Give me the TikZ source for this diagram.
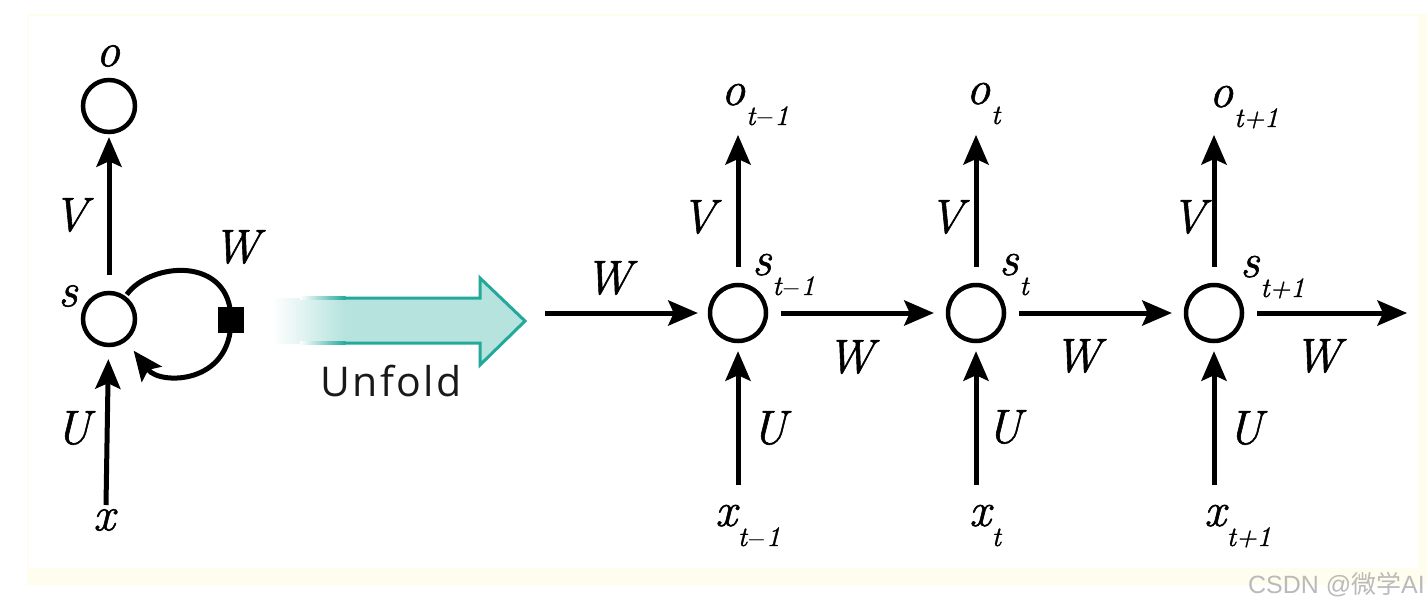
\documentclass[tikz,border=0pt]{standalone}
\usepackage{fontspec}
\newfontfamily\unfoldfont[LetterSpace=6]{Open Sans}
\newfontfamily\wmfont{Liberation Sans}
\newfontfamily\cjk{Noto Sans CJK SC}
\newfontfamily\labfont[FakeBold=1.2]{Latin Modern Roman}
\usetikzlibrary{arrows.meta}
\definecolor{tealline}{HTML}{22A99B}
\definecolor{tealfill}{HTML}{B6E3DE}
\definecolor{cream}{HTML}{FFFEEE}
\newcommand\sublab[2]{#1\kern1pt\raisebox{-20pt}{\fontsize{28}{28}\selectfont #2}}
\begin{document}
\begin{tikzpicture}[x=1pt,y=-1pt,
  unit/.style={circle, draw, line width=4.5pt, minimum size=56pt, inner sep=0pt},
  unitsmall/.style={unit, minimum size=52pt},
  arr/.style={line width=5pt, -{Stealth[length=30pt,width=26pt,inset=6pt,line width=0pt]}},
  lab/.style={inner sep=0pt, font=\labfont\fontsize{48}{48}\selectfont\itshape},
  sublabstyle/.style={lab, anchor=base west},
]
\useasboundingbox (0,0) rectangle (1427,610);
% background
\fill[cream] (27,14) rectangle (1427,585);
\fill[white] (29,16) rectangle (1418,568);

% ---------- folded network ----------
\node[unitsmall] (o0) at (109,106) {};
\node[unitsmall] (s0) at (109,319) {};
\node[fill=black, minimum size=26pt, inner sep=0pt] (sq) at (231,320) {};
\coordinate (x0in) at (106,505);
\draw[arr, shorten <=16pt, shorten >=3pt] (s0) -- (o0);
\draw[arr, shorten >=12pt] (x0in) -- (s0);
\draw[arr, shorten <=2pt, shorten >=12pt] (s0.54) .. controls (150,262) and (231,255) .. (sq.center)
   .. controls (231,385) and (160,385) .. (s0.-52);
\node[lab] (lo0) at (108,56) {o};
\node[lab] (ls0) at (68,296) {s};
\node[lab] (lw0) at (236,247) {W};
\node[lab] (lv0) at (70,215) {V};
\node[lab] (lu0) at (73,428) {U};
\node[lab] (lx0) at (104,520) {x};

% ---------- unfold arrow ----------
\fill[tealfill] (345,298) -- (480,298) -- (480,278) -- (525,321) -- (480,365) -- (480,343) -- (345,343) -- cycle;
\shade[left color=white, right color=tealfill] (272,298) rectangle (345.5,343);
\draw[tealline, line width=3pt, line join=miter] (345,298) -- (480,298) -- (480,278) -- (525,321) -- (480,365) -- (480,343) -- (345,343);
\shade[left color=white, right color=tealline] (300,296.5) rectangle (345.5,299.5);
\shade[left color=white, right color=tealline] (300,341.5) rectangle (345.5,344.5);
\node[font=\unfoldfont\fontsize{41}{41}\selectfont, text=black!90, inner sep=0pt] (unfold) at (391,381) {Unfold};

% ---------- unfolded network ----------
\node[unit] (s1) at (738,313) {};
\node[unit] (s2) at (976,313) {};
\node[unit] (s3) at (1214,313) {};
\coordinate (win) at (545,313);
\coordinate (wout) at (1407,313);
\coordinate (o1) at (738,135);
\coordinate (o2) at (976,135);
\coordinate (o3) at (1214,135);
\coordinate (x1) at (738,485);
\coordinate (x2) at (976,485);
\coordinate (x3) at (1214,485);

\draw[arr, shorten >=10pt] (win) -- (s1);
\draw[arr, shorten <=13pt, shorten >=12pt] (s1) -- (s2);
\draw[arr, shorten <=13pt, shorten >=12pt] (s2) -- (s3);
\draw[arr, shorten <=13pt] (s3) -- (wout);
\foreach \i in {1,2,3}{
  \draw[arr, shorten <=16pt] (s\i) -- (o\i);
  \draw[arr, shorten >=8pt] (x\i) -- (s\i);
}

% labels
\node[lab] (lwin) at (608,278) {W};
\node[lab] (lw1) at (850,357) {W};
\node[lab] (lw2) at (1077,356) {W};
\node[lab] (lw3) at (1317,356) {W};
\node[lab] (lv1) at (698,217) {V};
\node[lab] (lv2) at (946,217) {V};
\node[lab] (lv3) at (1188,217) {V};
\node[lab] (lu1) at (769,428) {U};
\node[lab] (lu2) at (1004,427) {U};
\node[lab] (lu3) at (1245,428) {U};

\node[sublabstyle] (lo1) at (721,105) {\sublab{o}{t$-$1}};
\node[sublabstyle] (lo2) at (966,104) {\sublab{o}{t}};
\node[sublabstyle] (lo3) at (1209,107) {\sublab{o}{t+1}};
\node[sublabstyle] (ls1) at (752,275) {\sublab{s}{t$-$1}};
\node[sublabstyle] (ls2) at (999,275) {\sublab{s}{t}};
\node[sublabstyle] (ls3) at (1240,277) {\sublab{s}{t+1}};
\node[sublabstyle] (lx1) at (715,526) {\sublab{x}{t$-$1}};
\node[sublabstyle] (lx2) at (969,526) {\sublab{x}{t}};
\node[sublabstyle] (lx3) at (1204,526) {\sublab{x}{t+1}};

% watermark
\node[anchor=base east, inner sep=0pt, text=black!27, font=\fontsize{25}{25}\selectfont\wmfont] (wm) at (1425,593) {CSDN @{\cjk 微学}AI};
\end{tikzpicture}
\end{document}
